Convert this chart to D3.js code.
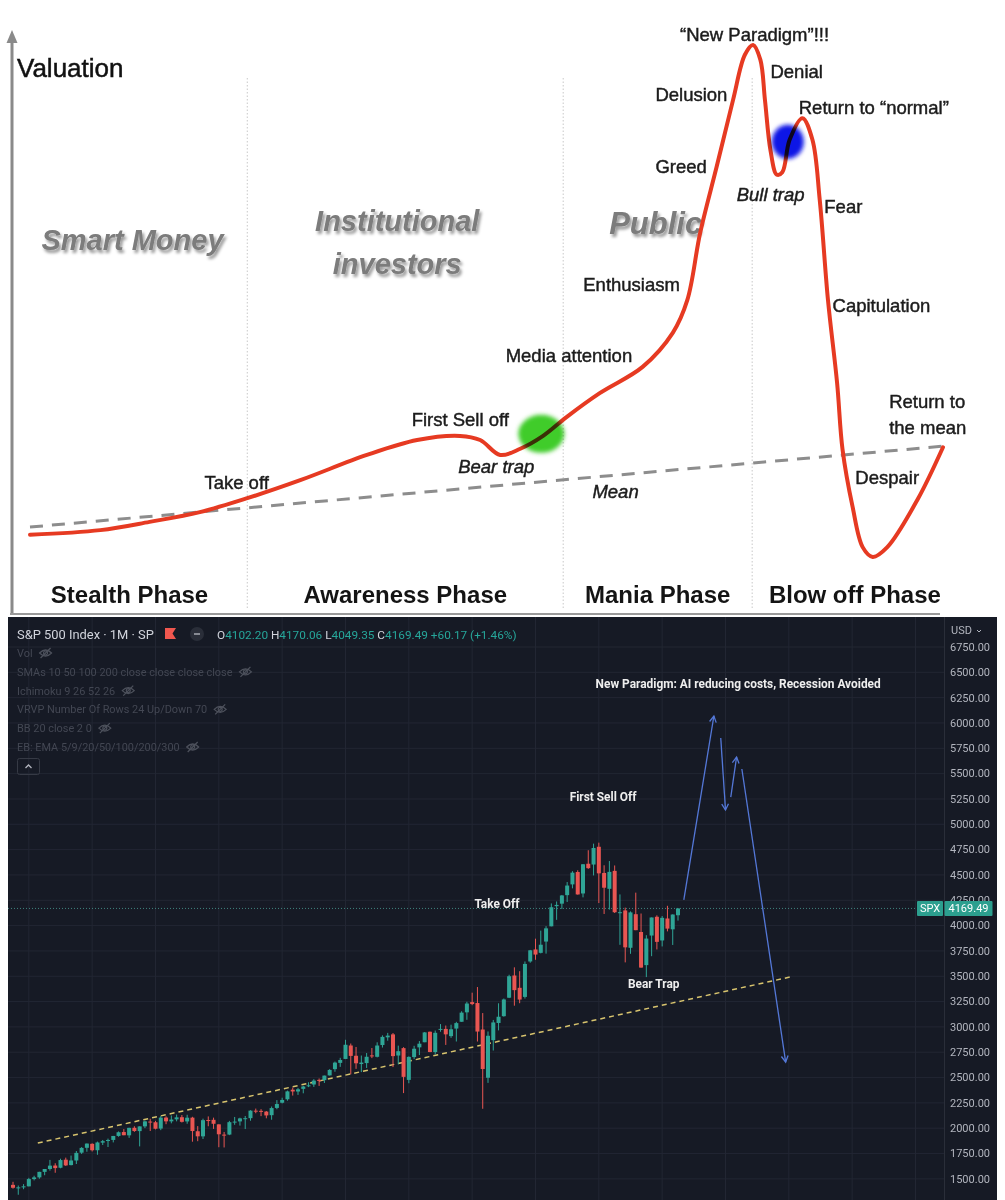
<!DOCTYPE html>
<html><head><meta charset="utf-8">
<script src="https://cdn.jsdelivr.net/npm/d3@7"></script>
<style>
html,body{margin:0;padding:0;background:#fff;}
svg{display:block;}
</style></head><body>
<svg id="c" width="1005" height="1200"></svg>
<script>
// ================= DATA: market cycle diagram (top) =================
const cycleT = [0,7.7,13.1,18.6,23.8,29.6,36.9,42.4,47.1,49.3,51.5,53.7,56.2,58.8,62.4,67.1,70.4,72.0,73.4,75.2,77.0,78.3,79.2,80.0,80.5,81.1,81.8,82.4,83.2,84.6,85.7,86.5,87.4,88.4,89.0,90.1,91.2,92.3,93.9,97.2,100];
const cycleV = [4.9,5.8,7.4,9.3,12.0,15.5,20.4,23.3,24.1,23.3,20.4,21.6,24.1,27.8,32.4,37.5,44.1,50.5,63.5,76.3,89.3,98.1,100,97.1,89.3,79.6,74.8,75.3,81.6,85.8,81.6,69.9,50.5,34.4,21.4,10.3,2.5,0.6,2.5,11.7,21.9];
const meanT = [0,100];
const meanV = [6.4,22.1];
const phaseNames = ["Stealth Phase","Awareness Phase","Mania Phase","Blow off Phase"];
const phaseEdges = [-2,23.8,58.4,79.1,101.6];
const crowdNames = [["Smart Money"],["Institutional","investors"],["Public"]];
const stageText = ["\u201cNew Paradigm\u201d!!!","Denial","Delusion","Return to \u201cnormal\u201d","Greed","Bull trap","Fear","Enthusiasm","Capitulation","Media attention","First Sell off","Bear trap","Return to","the mean","Take off","Mean","Despair"];
const stageT = [71.2,81.1,68.5,84.2,68.5,77.4,87.0,60.6,87.9,52.1,41.8,46.9,94.1,94.1,19.1,61.6,90.4];
const stageV = [100.8,93.6,89.1,86.6,75.1,69.7,67.4,52.2,48.2,38.4,26.0,16.9,29.5,24.5,13.8,12.0,14.8];
const stageItalic = ["Bull trap","Bear trap","Mean"];
const markT = [56.0,83.0];
const markV = [24.5,81.2];

// ================= DATA: S&P 500 monthly candles (Oct 2012 - Apr 2023) =================
const opens = [1440.9,1412.2,1416.2,
1426.2,1498.1,1514.7,1569.2,1597.6,1631.7,1609.8,1689.4,1636.0,1681.3,1758.7,1806.6,
1845.9,1782.7,1857.7,1874.0,1884.4,1923.9,1962.3,1929.8,2004.1,1971.4,2018.2,2065.8,
2058.9,1996.7,2105.2,2067.6,2087.4,2108.6,2067.0,2104.5,1970.1,1919.7,2080.8,2082.9,
2038.2,1936.9,1937.1,2056.6,2067.2,2093.9,2099.3,2173.2,2171.3,2164.3,2128.7,2200.2,
2251.6,2285.6,2380.1,2362.3,2388.5,2415.7,2431.4,2477.1,2474.4,2521.2,2583.2,2645.1,
2683.7,2816.5,2715.2,2633.5,2643.0,2718.7,2705.0,2821.2,2897.0,2926.3,2717.6,2790.5,
2477.0,2702.3,2798.2,2848.6,2952.3,2751.5,2971.4,2980.3,2909.0,2983.7,3050.7,3143.9,
3244.7,3235.7,2974.3,2498.1,2869.1,3038.8,3105.9,3288.3,3507.4,3385.9,3296.2,3645.9,
3764.6,3731.2,3842.5,3992.8,4192.0,4216.5,4300.7,4406.9,4528.8,4317.2,4610.6,4602.8,
4778.1,4519.6,4363.1,4540.3,4130.6,4149.8,3781.0,4112.4,3936.7,3609.8,3901.8,4087.1,
3853.3,4070.1,3963.3,4102.20];
const highs = [1471.0,1434.3,1448.0,
1509.9,1530.9,1570.3,1597.6,1687.2,1654.2,1698.8,1709.7,1729.9,1775.2,1813.6,1849.4,
1850.8,1867.9,1884.0,1897.3,1924.0,1968.2,1991.4,2005.0,2019.3,2018.2,2075.8,2093.6,
2072.4,2119.6,2117.5,2125.9,2134.7,2129.9,2132.8,2112.7,2020.9,2094.3,2116.5,2104.3,
2038.2,1963.0,2072.2,2111.1,2103.5,2120.6,2177.1,2193.8,2187.9,2169.6,2214.1,2277.5,
2301.0,2371.5,2401.0,2398.2,2418.7,2453.8,2484.0,2490.9,2519.4,2583.0,2657.7,2695.0,
2872.9,2836.0,2801.9,2717.5,2742.2,2791.5,2848.0,2916.5,2940.9,2939.9,2815.2,2800.2,
2709.0,2813.5,2860.3,2949.5,2954.1,2964.2,3028.0,3013.6,3022.0,3050.1,3154.3,3247.9,
3337.8,3393.5,3136.7,2954.9,3068.7,3233.1,3280.0,3514.8,3588.1,3549.9,3646.0,3760.2,
3870.9,3950.4,3994.4,4218.8,4238.0,4302.4,4430.0,4537.4,4545.9,4608.1,4743.8,4808.9,
4818.6,4595.3,4637.3,4593.5,4307.7,4177.5,4140.2,4325.3,4119.3,3905.4,4080.1,4101.0,
4094.2,4195.4,4110.8,4170.06];
const lows = [1403.3,1343.4,1398.1,
1426.2,1485.0,1501.5,1536.0,1581.3,1560.3,1604.6,1627.5,1633.4,1646.5,1746.2,1768.0,
1770.5,1737.9,1834.4,1814.4,1859.8,1916.0,1930.7,1904.8,1964.0,1820.7,2001.0,1972.6,
1988.1,1980.9,2039.7,2048.4,2067.9,2056.3,2044.0,1867.0,1871.9,1893.7,2019.4,1993.3,
1812.3,1810.1,1931.8,2033.8,2025.9,1991.7,2074.0,2147.6,2119.1,2097.9,2083.8,2187.4,
2245.1,2271.7,2322.3,2329.0,2344.5,2405.7,2407.7,2417.4,2446.6,2520.4,2557.5,2605.5,
2682.4,2532.7,2585.9,2553.8,2594.6,2692.0,2699.0,2796.3,2864.1,2603.5,2631.1,2346.6,
2444.0,2681.8,2722.3,2848.6,2750.5,2728.8,2952.2,2822.1,2891.9,2855.9,3050.7,3070.3,
3214.6,2855.8,2191.9,2447.5,2766.6,2965.7,3101.2,3284.5,3209.5,3233.9,3279.7,3633.4,
3662.7,3725.6,3723.3,3992.8,4056.9,4164.4,4233.1,4367.7,4305.9,4278.9,4560.0,4495.1,
4222.6,4114.7,4157.9,4124.3,3810.3,3636.9,3721.6,3954.5,3584.1,3491.6,3698.2,3764.5,
3794.3,3943.1,3808.9,4049.35];
const closes = [1412.2,1416.2,1426.2,
1498.1,1514.7,1569.2,1597.6,1630.7,1606.3,1685.7,1633.0,1681.6,1756.5,1805.8,1848.4,
1782.6,1859.5,1872.3,1884.0,1923.6,1960.2,1930.7,2003.4,1972.3,2018.1,2067.6,2058.9,
1995.0,2104.5,2067.9,2085.5,2107.4,2063.1,2103.8,1972.2,1920.0,2079.4,2080.4,2043.9,
1940.2,1932.2,2059.7,2065.3,2097.0,2098.9,2173.6,2171.0,2168.3,2126.2,2198.8,2238.8,
2278.9,2363.6,2362.7,2384.2,2411.8,2423.4,2470.3,2471.7,2519.4,2575.3,2647.6,2673.6,
2823.8,2713.8,2640.9,2648.1,2705.3,2718.4,2816.3,2901.5,2914.0,2711.7,2760.2,2506.9,
2704.1,2784.5,2834.4,2945.8,2752.1,2941.8,2980.4,2926.5,2976.7,3037.6,3141.0,3230.8,
3225.5,2954.2,2584.6,2912.4,3044.3,3100.3,3271.1,3500.3,3363.0,3270.0,3621.6,3756.1,
3714.2,3811.2,3972.9,4181.2,4204.1,4297.5,4395.3,4522.7,4307.5,4605.4,4567.0,4766.2,
4515.6,4373.9,4530.4,4131.9,4132.2,3785.4,4130.3,3955.0,3585.6,3872.0,4080.1,3839.5,
4076.6,3970.2,4109.32,4169.49];
const priceTicks = [1250,1500,1750,2000,2250,2500,2750,3000,3250,3500,3750,4000,4250,4500,4750,5000,5250,5500,5750,6000,6250,6500,6750];
const yearStartIdx = [3,15,27,39,51,63,75,87,99,111,123,135,147,159,171];
const trendIdx = [4.7,147.2];
const trendPrice = [1854,3492];
const arrowFromIdx = [127.1,134.1,136.0,138.1];
const arrowFromPrice = [4253,5852,5269,5546];
const arrowToIdx = [132.8,135.0,137.1,146.4];
const arrowToPrice = [6069,5141,5664,2653];
const noteText = ["New Paradigm: AI reducing costs, Recession Avoided","First Sell Off","Take Off","Bear Trap"];
const noteIdx = [137.4,111.8,91.7,121.4];
const notePrice = [6385,5269,4213,3423];
const indicators = ["Vol","SMAs 10 50 100 200 close close close close","Ichimoku 9 26 52 26","VRVP Number Of Rows 24 Up/Down 70","BB 20 close 2 0","EB: EMA 5/9/20/50/100/200/300"];

// ================= DRAW =================
const svg = d3.select("#c");
const defs = svg.append("defs");
const fg = defs.append("filter").attr("id","ghost").attr("x","-10%").attr("y","-40%").attr("width","130%").attr("height","190%");
fg.append("feGaussianBlur").attr("in","SourceAlpha").attr("stdDeviation",1.5).attr("result","b");
fg.append("feOffset").attr("in","b").attr("dx",2).attr("dy",3).attr("result","o");
fg.append("feFlood").attr("flood-color","#000").attr("flood-opacity",0.4);
fg.append("feComposite").attr("in2","o").attr("operator","in").attr("result","s");
fg.append("feGaussianBlur").attr("in","SourceGraphic").attr("stdDeviation",0.45).attr("result","t");
const fm = fg.append("feMerge"); fm.append("feMergeNode").attr("in","s"); fm.append("feMergeNode").attr("in","t");
defs.append("filter").attr("id","blob").attr("x","-50%").attr("y","-50%").attr("width","200%").attr("height","200%")
  .append("feGaussianBlur").attr("stdDeviation",2);

// ---------- top panel ----------
const xc = d3.scaleLinear().domain([0,100]).range([30,943]);
const yc = d3.scaleLinear().domain([0,100]).range([560,45]);
const topG = svg.append("g");
const F = "'Liberation Sans', Arial, sans-serif";

// phase dividers
topG.selectAll(".div").data(phaseEdges.slice(1,-1)).join("line")
  .attr("x1",d=>xc(d)).attr("x2",d=>xc(d)).attr("y1",78).attr("y2",608)
  .attr("stroke","#c9c9c9").attr("stroke-width",1).attr("stroke-dasharray","1.5,2");

// axes
topG.append("line").attr("x1",12).attr("x2",12).attr("y1",40).attr("y2",615).attr("stroke","#8a8a8a").attr("stroke-width",3);
topG.append("path").attr("d","M12,30 L17.5,43 L6.5,43 Z").attr("fill","#8a8a8a");
topG.append("line").attr("x1",10).attr("x2",940).attr("y1",614).attr("y2",614).attr("stroke","#9a9a9a").attr("stroke-width",2);

topG.append("text").attr("x",17).attr("y",77).text("Valuation")
  .attr("font-family",F).attr("font-size",26).attr("fill","#111").attr("stroke","#111").attr("stroke-width",0.5);

// crowd labels
const mids = d3.range(3).map(i=>(phaseEdges[i]+phaseEdges[i+1])/2);
const crowdDx = [3,-8,-2];
const crowdY = [[250],[231,274],[234]];
const crowdSize = [29,29,31];
crowdNames.forEach((lines,i)=>{
  lines.forEach((ln,j)=>{
    topG.append("text").attr("x",xc(mids[i])+crowdDx[i]).attr("y",crowdY[i][j]).attr("text-anchor","middle")
      .attr("font-family",F).attr("font-weight","bold").attr("font-style","italic").attr("font-size",crowdSize[i])
      .attr("fill","#7b7b7b").attr("filter","url(#ghost)").text(ln);
  });
});

// mean line
topG.append("path").datum(d3.zip(meanT,meanV))
  .attr("d",d3.line().x(d=>xc(d[0])).y(d=>yc(d[1])))
  .attr("fill","none").attr("stroke","#8d8d8d").attr("stroke-width",3).attr("stroke-dasharray","13,9");

// cycle curve
topG.append("path").datum(d3.zip(cycleT,cycleV))
  .attr("d",d3.line().x(d=>xc(d[0])).y(d=>yc(d[1])).curve(d3.curveCatmullRom.alpha(0.5)))
  .attr("fill","none").attr("stroke","#e63a22").attr("stroke-width",4).attr("stroke-linecap","round").attr("stroke-linejoin","round");

// highlight blobs
const markFill = ["#3fcc2a","#0a12e6"];
const markR = [[23,19],[16,17]];
markT.forEach((t,i)=>{
  topG.append("ellipse").attr("cx",xc(t)).attr("cy",yc(markV[i])).attr("rx",markR[i][0]).attr("ry",markR[i][1])
    .attr("fill",markFill[i]).attr("filter","url(#blob)").style("mix-blend-mode","multiply");
});

// stage labels
stageText.forEach((s,i)=>{
  const it = stageItalic.includes(s);
  topG.append("text").attr("x",xc(stageT[i])).attr("y",yc(stageV[i])).text(s)
    .attr("font-family",F).attr("font-size",18.5).attr("font-style",it?"italic":"normal")
    .attr("fill","#1c1c1c").attr("stroke","#1c1c1c").attr("stroke-width",0.45);
});

// phase labels
phaseNames.forEach((p,i)=>{
  topG.append("text").attr("x",xc((phaseEdges[i]+phaseEdges[i+1])/2)).attr("y",603).attr("text-anchor","middle")
    .attr("font-family",F).attr("font-weight","bold").attr("font-size",24).attr("fill","#141414").text(p);
});

// ---------- bottom panel (TradingView) ----------
const B = "Roboto, 'Noto Sans', sans-serif";
const bg = svg.append("g");
bg.append("rect").attr("x",8).attr("y",617).attr("width",989).attr("height",583).attr("fill","#161a25");

const xs = d3.scaleLinear().domain([0,126]).range([13,678]);
const ys = d3.scaleLinear().domain([1250,6750]).range([1204.2,647]);

const clip = defs.append("clipPath").attr("id","plot");
clip.append("rect").attr("x",8).attr("y",617).attr("width",936).attr("height",583);
const plot = bg.append("g").attr("clip-path","url(#plot)");

// grid
plot.selectAll(".hg").data(priceTicks).join("line")
  .attr("x1",8).attr("x2",944).attr("y1",d=>ys(d)).attr("y2",d=>ys(d))
  .attr("stroke","#222633").attr("stroke-width",1);
plot.selectAll(".vg").data(yearStartIdx).join("line")
  .attr("x1",d=>xs(d)).attr("x2",d=>xs(d)).attr("y1",617).attr("y2",1200)
  .attr("stroke","#222633").attr("stroke-width",1);

// trend line
plot.append("path").datum(d3.zip(trendIdx,trendPrice))
  .attr("d",d3.line().x(d=>xs(d[0])).y(d=>ys(d[1])))
  .attr("stroke","#d8c46e").attr("stroke-width",1.5).attr("stroke-dasharray","5,4").attr("fill","none");

// last price line
const lastClose = closes[closes.length-1];
plot.append("line").attr("x1",8).attr("x2",944).attr("y1",ys(lastClose)).attr("y2",ys(lastClose))
  .attr("stroke","#4a9e94").attr("stroke-width",1).attr("stroke-dasharray","1,2").attr("opacity",0.8);

// candles
const up = "#2fa596", dn = "#e95652";
const cg = plot.append("g");
opens.forEach((o,i)=>{
  const c = closes[i], col = c>=o?up:dn;
  const x = xs(i);
  cg.append("line").attr("x1",x).attr("x2",x).attr("y1",ys(highs[i])).attr("y2",ys(lows[i])).attr("stroke",col).attr("stroke-width",1);
  const y0 = ys(Math.max(o,c)), y1 = ys(Math.min(o,c));
  cg.append("rect").attr("x",x-2).attr("width",4).attr("y",y0).attr("height",Math.max(1,y1-y0)).attr("fill",col);
});

// projection arrows
const ac = "#5478d8";
arrowFromIdx.forEach((fi,i)=>{
  const x1=xs(fi), y1=ys(arrowFromPrice[i]), x2=xs(arrowToIdx[i]), y2=ys(arrowToPrice[i]);
  plot.append("line").attr("x1",x1).attr("y1",y1).attr("x2",x2).attr("y2",y2).attr("stroke",ac).attr("stroke-width",1.3);
  const a = Math.atan2(y2-y1,x2-x1), L=7, w=0.5;
  const p = [[x2-L*Math.cos(a-w),y2-L*Math.sin(a-w)],[x2,y2],[x2-L*Math.cos(a+w),y2-L*Math.sin(a+w)]];
  plot.append("path").attr("d",d3.line()(p)).attr("fill","none").attr("stroke",ac).attr("stroke-width",1.3);
});

// notes
noteText.forEach((t,i)=>{
  plot.append("text").attr("x",xs(noteIdx[i])).attr("y",ys(notePrice[i])).attr("dy","0.35em").attr("text-anchor","middle")
    .attr("font-family",B).attr("font-weight","bold").attr("font-size",11.9).attr("fill","#eeeeee").text(t);
});

// price axis
bg.append("line").attr("x1",944.5).attr("x2",944.5).attr("y1",617).attr("y2",1200).attr("stroke","#2a2e39");
bg.selectAll(".pt").data(priceTicks).join("text")
  .attr("x",950).attr("y",d=>ys(d)).attr("dy","0.35em")
  .attr("font-family",B).attr("font-size",11).attr("fill","#b2b5be").text(d=>d.toFixed(2));
bg.append("text").attr("x",951).attr("y",634).attr("font-family",B).attr("font-size",11).attr("fill","#b2b5be").text("USD");
bg.append("path").attr("d","M977,630 l2,2 l2,-2").attr("fill","none").attr("stroke","#b2b5be").attr("stroke-width",1);

// SPX price label
const ly = ys(lastClose);
bg.append("rect").attr("x",917).attr("y",ly-7.5).attr("width",26).attr("height",15).attr("fill","#2c9f8f").attr("rx",1);
bg.append("rect").attr("x",944.5).attr("y",ly-7.5).attr("width",48).attr("height",15).attr("fill","#2c9f8f").attr("rx",1);
bg.append("text").attr("x",930).attr("y",ly).attr("dy","0.35em").attr("text-anchor","middle").attr("font-family",B).attr("font-size",11).attr("fill","#fff").text("SPX");
bg.append("text").attr("x",968.5).attr("y",ly).attr("dy","0.35em").attr("text-anchor","middle").attr("font-family",B).attr("font-size",11).attr("fill","#fff").text(lastClose.toFixed(2));

// header
bg.append("text").attr("x",17).attr("y",639).attr("font-family",B).attr("font-size",12.9).attr("fill","#d1d4dc").text("S&P 500 Index \u00b7 1M \u00b7 SP");
bg.append("path").attr("d","M165,628 h11 l-3.5,5.5 l3.5,5.5 h-11 Z").attr("fill","#f0574f");
bg.append("circle").attr("cx",197).attr("cy",634).attr("r",7).attr("fill","#2a2e39");
bg.append("line").attr("x1",194).attr("x2",200).attr("y1",634).attr("y2",634).attr("stroke","#a0a3ab").attr("stroke-width",1.6);
const n = closes.length-1;
const chg = closes[n]-closes[n-1];
const teal = "#26a69a", wht = "#d1d4dc";
const parts = [["O",wht],[opens[n].toFixed(2),teal],[" H",wht],[highs[n].toFixed(2),teal],[" L",wht],[lows[n].toFixed(2),teal],[" C",wht],[closes[n].toFixed(2),teal],
  [" +"+chg.toFixed(2)+" (+"+(chg/closes[n-1]*100).toFixed(2)+"%)",teal]];
const ohlc = bg.append("text").attr("x",217).attr("y",639).attr("font-family",B).attr("font-size",11.8);
parts.forEach(p=>ohlc.append("tspan").attr("fill",p[1]).text(p[0]));

// indicator rows
indicators.forEach((s,i)=>{
  const yy = 657 + i*18.8;
  const t = bg.append("text").attr("x",17).attr("y",yy).attr("font-family",B).attr("font-size",10.9).attr("fill","#434753").text(s);
  const w = t.node().getComputedTextLength();
  const ex = 17 + w + 13, ey = yy-4;
  const eye = bg.append("g").attr("transform",`translate(${ex},${ey})`).attr("fill","none").attr("stroke","#4d515c").attr("stroke-width",1.2);
  eye.append("path").attr("d","M-6,0 Q0,-6 6,0 Q0,6 -6,0 Z");
  eye.append("circle").attr("r",2);
  eye.append("line").attr("x1",-5).attr("y1",5).attr("x2",5).attr("y2",-5);
});
bg.append("rect").attr("x",17.5).attr("y",758.5).attr("width",22).attr("height",16).attr("rx",2).attr("fill","none").attr("stroke","#363a45");
bg.append("path").attr("d","M25.5,768 l3,-3 l3,3").attr("fill","none").attr("stroke","#b2b5be").attr("stroke-width",1.3);
</script>
</body></html>
